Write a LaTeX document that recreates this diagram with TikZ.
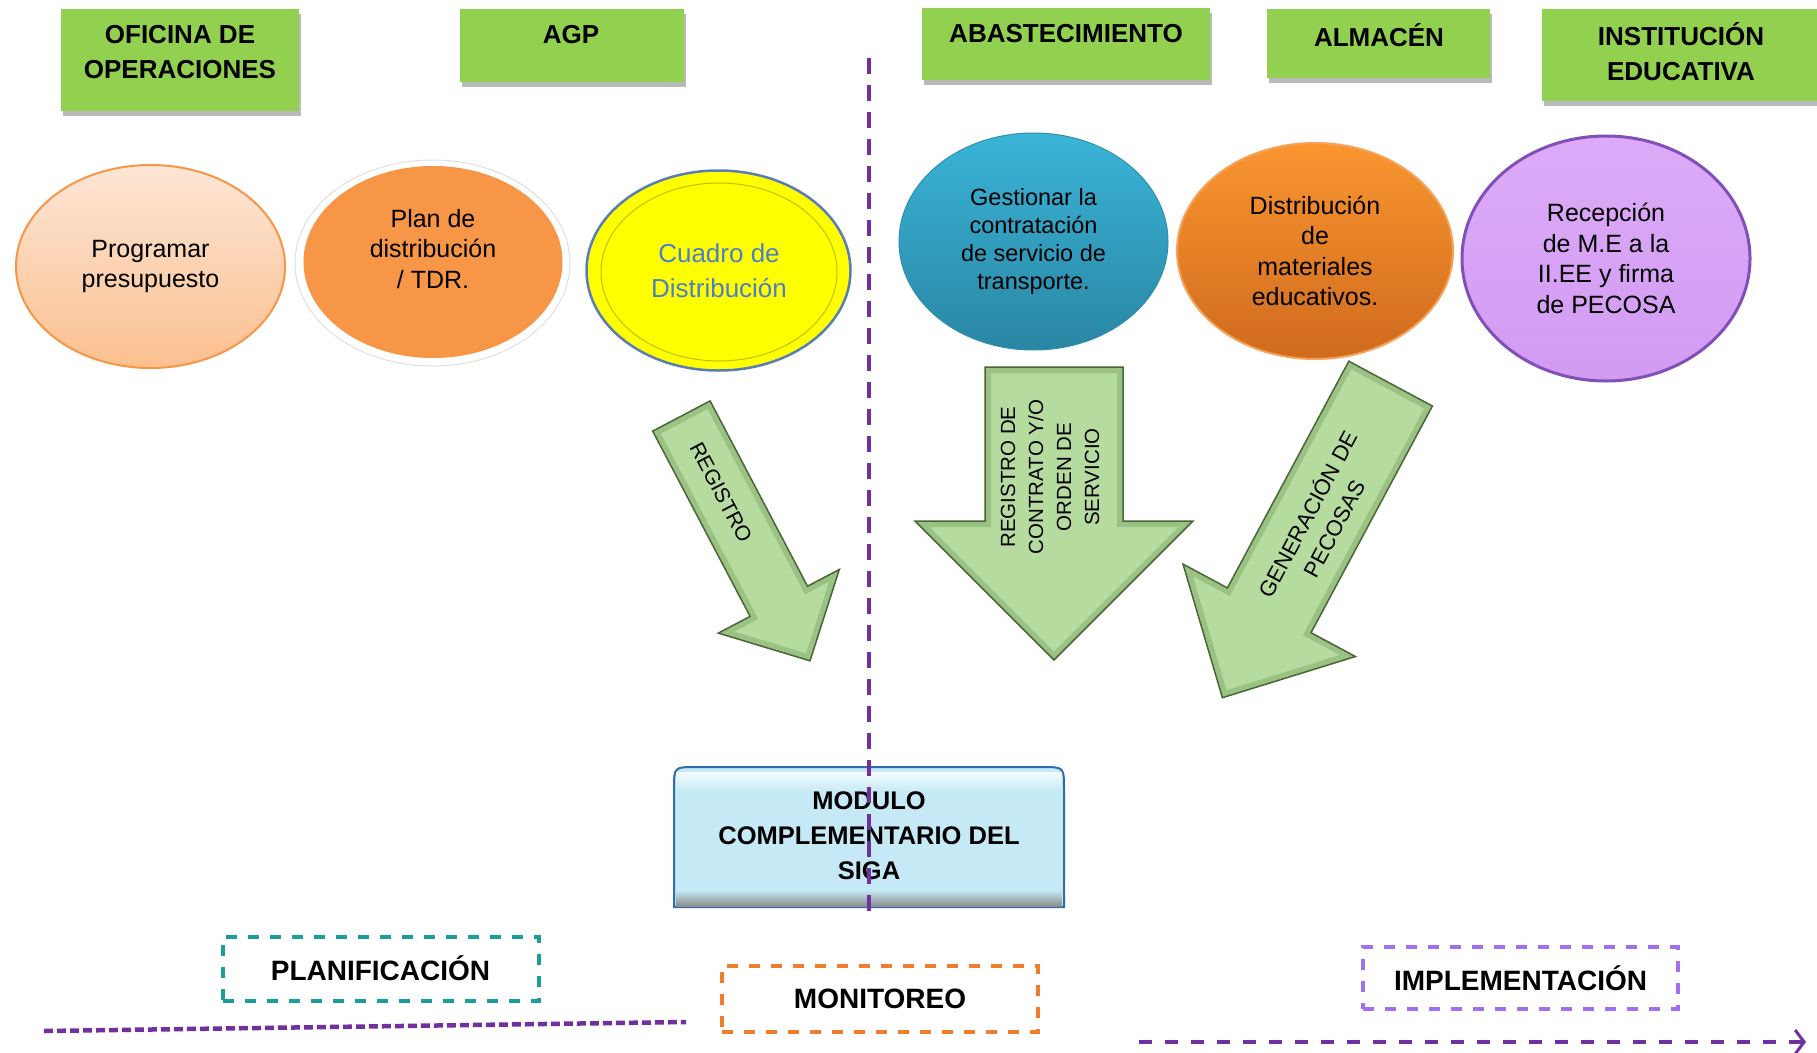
\documentclass[tikz,border=0pt]{standalone}
\usepackage{fontspec}
\setmainfont{Liberation Sans}
\usetikzlibrary{shapes.geometric,shadows,arrows.meta}
\definecolor{hdrgreen}{HTML}{92D050}
\definecolor{eonetop}{HTML}{FDE6D6}
\definecolor{eonebot}{HTML}{FBC08F}
\definecolor{eoneedge}{HTML}{F79646}
\definecolor{etwofill}{HTML}{F79646}
\definecolor{yelfill}{HTML}{FFFF00}
\definecolor{yeledge}{HTML}{5A7DB5}
\definecolor{cuadrotxt}{HTML}{4C7FC8}
\definecolor{efourtop}{HTML}{3AB4D8}
\definecolor{efourbot}{HTML}{2A86A3}
\definecolor{efivetop}{HTML}{F9962F}
\definecolor{efivebot}{HTML}{D06A1E}
\definecolor{efiveedge}{HTML}{F5A35A}
\definecolor{esixtop}{HTML}{DDAAF8}
\definecolor{esixbot}{HTML}{D29BF2}
\definecolor{esixedge}{HTML}{8050B8}
\definecolor{arrowgreen}{HTML}{B6DB9F}
\definecolor{arrowrim}{HTML}{8DB878}
\definecolor{arrowedge}{HTML}{4A6638}
\definecolor{modfill}{HTML}{C5EAF5}
\definecolor{modedge}{HTML}{2F6CA8}
\definecolor{tealline}{HTML}{1A9E96}
\definecolor{orangeline}{HTML}{F07D2E}
\definecolor{lilacline}{HTML}{A070F0}
\definecolor{linepurple}{HTML}{7030A0}
\newcommand\myArrowA{(652.7,431.1) -- (710.1,400.9) -- (807.5,586.2) -- (839.3,569.5)
  -- (810.0,660.8) -- (718.3,633.1) -- (750.1,616.4) -- cycle}
\newcommand\myArrowB{(985,367) -- (1123,367) -- (1123,521) -- (1193,521) -- (1054,660)
  -- (915,521) -- (985,521) -- cycle}
\newcommand\myArrowC{(1348.8,361.2) -- (1432.4,406.0) -- (1311.0,632.7) -- (1355.4,656.5)
  -- (1222.4,697.7) -- (1183.0,564.1) -- (1227.4,587.9) -- cycle}
\begin{document}
\begin{tikzpicture}[x=1pt,y=-1pt,
  hdr/.style={rectangle, fill=hdrgreen, draw=none, anchor=north west, inner sep=0pt,
    drop shadow={shadow xshift=2pt, shadow yshift=-5pt, opacity=0.45, fill=black!60}},
  hdrtxt/.style={font=\fontsize{26}{35}\selectfont\bfseries, align=center, inner sep=0pt},
  ell/.style={ellipse, inner sep=0pt, align=center, font=\fontsize{25}{30.5}\selectfont},
  lbl/.style={rectangle, line width=4pt, minimum width=316pt, minimum height=64pt,
    font=\fontsize{28}{34}\selectfont\bfseries, dash pattern=on 11pt off 11pt},
  bigarrow/.style={fill=arrowgreen},
  arrowrimstyle/.style={draw=arrowrim, line width=12pt, line join=miter, opacity=0.7},
  arrowline/.style={draw=arrowedge, line width=1.5pt, line join=miter},
  arrtxt/.style={font=\fontsize{21}{28}\selectfont, align=center, inner sep=0pt},
  vline/.style={draw=linepurple, line width=3.5pt, dash pattern=on 16pt off 11pt},
  bline/.style={draw=linepurple, line width=4.5pt}
]
\fill[white] (0,0) rectangle (1817,1052);
\useasboundingbox (0,0) rectangle (1817,1052);

% headers
\node[hdr, minimum width=238pt, minimum height=102pt] (h1) at (61,9) {};
\node[hdrtxt] (h1t) at (180,52) {OFICINA DE\\OPERACIONES};
\node[hdr, minimum width=224pt, minimum height=73pt] (h2) at (460,9) {};
\node[hdrtxt] (h2t) at (571,35) {AGP};
\node[hdr, minimum width=288pt, minimum height=72pt] (h3) at (922,8) {};
\node[hdrtxt] (h3t) at (1066,34) {ABASTECIMIENTO};
\node[hdr, minimum width=223pt, minimum height=69pt] (h4) at (1267,9) {};
\node[hdrtxt] (h4t) at (1379,35) {ALMACÉN};
\node[hdr, minimum width=285pt, minimum height=92pt] (h5) at (1542,9) {};
\node[hdrtxt] (h5t) at (1681,52) {INSTITUCIÓN\\EDUCATIVA};

% ellipses
\node[ell, top color=eonetop, bottom color=eonebot, draw=eoneedge, line width=2pt,
  minimum width=269pt, minimum height=203pt] (e1) at (150.5,266.5) {Programar\\presupuesto};

\node[ellipse, fill=white, draw=black!12, line width=1pt, minimum width=275pt, minimum height=206pt,
  inner sep=0pt] (e2ring) at (432.5,263) {};
\node[ellipse, fill=etwofill, minimum width=259pt, minimum height=192pt, inner sep=0pt] (e2) at (433,262) {};
\node[ell] (e2t) at (433,249) {Plan de\\distribución\\/ TDR.};

\node[ellipse, fill=yelfill, draw=yeledge, line width=2.5pt, minimum width=264pt, minimum height=200pt,
  inner sep=0pt] (e3) at (718.5,270.5) {};
\node[ellipse, draw=black!25!yelfill, line width=1pt, minimum width=236pt, minimum height=178pt,
  inner sep=0pt] (e3in) at (719,272) {};
\node[ell, text=cuadrotxt, font=\fontsize{26}{35}\selectfont] (e3t) at (719,271) {Cuadro de\\Distribución};

\node[ell, top color=efourtop, bottom color=efourbot, draw=efourtop!80!black, line width=1pt,
  minimum width=269pt, minimum height=217pt, font=\fontsize{23.5}{28}\selectfont] (e4) at (1033.5,241.5)
  {Gestionar la\\contratación\\de servicio de\\transporte.};

\node[ell, top color=efivetop, bottom color=efivebot, draw=efiveedge, line width=2pt,
  minimum width=276pt, minimum height=216pt] (e5) at (1315,251)
  {Distribución\\de\\materiales\\educativos.};

\node[ell, top color=esixtop, bottom color=esixbot, draw=esixedge, line width=3pt,
  minimum width=288pt, minimum height=245pt] (e6) at (1606,258.5)
  {Recepción\\de M.E a la\\II.EE y firma\\de PECOSA};

% big arrows (filled, bevelled rim, outline)
\fill[bigarrow] \myArrowA;
\begin{scope}\clip \myArrowA; \draw[arrowrimstyle] \myArrowA; \end{scope}
\draw[arrowline] \myArrowA;
\node[arrtxt, rotate=-62.3] (a1t) at (721,492.5) {REGISTRO};

\fill[bigarrow] \myArrowB;
\begin{scope}\clip \myArrowB; \draw[arrowrimstyle] \myArrowB; \end{scope}
\draw[arrowline] \myArrowB;
\node[arrtxt, rotate=90, font=\fontsize{20.5}{28}\selectfont] (a2t) at (1050,477)
  {REGISTRO DE\\CONTRATO Y/O\\ORDEN DE\\SERVICIO};

\fill[bigarrow] \myArrowC;
\begin{scope}\clip \myArrowC; \draw[arrowrimstyle] \myArrowC; \end{scope}
\draw[arrowline] \myArrowC;
\node[arrtxt, rotate=61.8, font=\fontsize{22}{30}\selectfont] (a3t) at (1320,521)
  {GENERACIÓN DE\\PECOSAS};

% module box
\path[fill=modfill, draw=modedge, line width=2pt]
  (674,907) -- (674,789) .. controls (674,767) .. (696,767) -- (1042,767)
  .. controls (1064,767) .. (1064,789) -- (1064,907) -- cycle;
\shade[top color=modfill, bottom color=black!45] (676,890) rectangle (1062,906);
\shade[top color=white!80!modfill, bottom color=modfill] (676,772) rectangle (1062,792);
\node[font=\fontsize{25.5}{35}\selectfont\bfseries, align=center, inner sep=0pt] (mod) at (869,836)
  {MODULO\\COMPLEMENTARIO DEL\\SIGA};

% vertical dashed divider
\coordinate (vtop) at (869,58);
\coordinate (vbot) at (869,915);
\draw[vline] (vtop) -- (vbot);

% phase labels
\node[lbl, draw=tealline] (plan) at (380.5,968.5) {PLANIFICACIÓN};
\node[lbl, draw=orangeline, minimum height=66pt] (mon) at (880,999) {MONITOREO};
\node[lbl, draw=lilacline, minimum width=315pt, minimum height=62pt] (impl) at (1520.5,978) {IMPLEMENTACIÓN};

% bottom timeline
\coordinate (pl1) at (44,1031);
\coordinate (pl2) at (686,1022);
\draw[bline, dash pattern=on 9pt off 4pt] (pl1) -- (pl2);
\coordinate (ir1) at (1139,1042);
\coordinate (ir2) at (1806,1042);
\draw[bline, dash pattern=on 13pt off 13pt, -{Straight Barb[length=9pt,width=24pt,line width=3pt]}] (ir1) -- (ir2);
\end{tikzpicture}
\end{document}
